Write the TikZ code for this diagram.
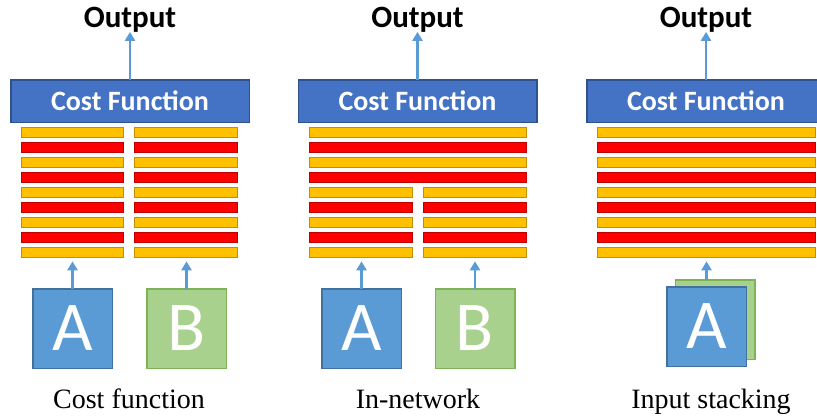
\documentclass[tikz,border=0pt]{standalone}
\usepackage{fontspec}
\setmainfont{Liberation Serif}
\newfontfamily\calib{Carlito}
\usetikzlibrary{arrows.meta}

\definecolor{cfblue}{HTML}{4472C4}
\definecolor{cfedge}{HTML}{2F528F}
\definecolor{arrblue}{HTML}{5B9BD5}
\definecolor{layY}{HTML}{FFC000}
\definecolor{layYedge}{HTML}{C09000}
\definecolor{layR}{HTML}{FF0000}
\definecolor{layRedge}{HTML}{C00000}
\definecolor{inA}{HTML}{5B9BD5}
\definecolor{inAedge}{HTML}{41719C}
\definecolor{inB}{HTML}{A9D18E}
\definecolor{inBedge}{HTML}{7DB356}

\tikzset{
  cost/.style={draw=cfedge, fill=cfblue, line width=1.5pt,
    minimum width=238.5pt, minimum height=42.5pt, inner sep=0pt, outer sep=0pt,
    text=white, font=\calib\bfseries\fontsize{28}{28}\selectfont},
  outlabel/.style={anchor=base, inner sep=0pt, outer sep=0pt,
    font=\calib\bfseries\fontsize{31}{31}\selectfont},
  caption/.style={anchor=base, inner sep=0pt, font=\fontsize{28}{28}\selectfont},
  layer/.style={anchor=north west, line width=1.3pt, minimum height=9.7pt,
    inner sep=0pt, outer sep=0pt},
  ylay/.style={layer, draw=layYedge, fill=layY},
  rlay/.style={layer, draw=layRedge, fill=layR},
  inbox/.style={minimum size=79.5pt, line width=1.5pt, inner sep=0pt, outer sep=0pt,
    text=white, font=\calib\fontsize{70}{70}\selectfont},
  inputA/.style={inbox, draw=inAedge, fill=inA},
  inputB/.style={inbox, draw=inBedge, fill=inB},
  flow/.style={draw=arrblue, line width=2.6pt,
    -{Triangle[width=10pt,length=9pt]}},
}

% layer colour by index: even rows yellow, odd rows red
\newcommand{\laystyle}[1]{\ifodd#1 rlay\else ylay\fi}

\begin{document}
\begin{tikzpicture}[x=1pt,y=-1pt]
\useasboundingbox (0,0) rectangle (817,418);

% ---- shared head of each network: cost function box and output arrow
\foreach \p/\ox in {1/10,2/297.5,3/586}{
  \node[cost] (cf\p) at (\ox+120,101) {Cost Function};
  \node[outlabel] (out\p) at (\ox+120,27) {Output};
  \draw[flow] (cf\p.north) -- (out\p.south);
}

% ---- panel 1: two separate stacks
\foreach \i in {0,...,8}{
  \pgfmathtruncatemacro{\yy}{127+15*\i}
  \edef\st{\laystyle{\i}}
  \node[\st, minimum width=101.7pt] (p1L\i) at (21.6,\yy+0.6) {};
  \node[\st, minimum width=102.7pt] (p1R\i) at (134.6,\yy+0.6) {};
}
% ---- panel 2: shared upper layers, split lower layers
\foreach \i in {0,...,3}{
  \pgfmathtruncatemacro{\yy}{127+15*\i}
  \edef\st{\laystyle{\i}}
  \node[\st, minimum width=216.7pt] (p2F\i) at (309.6,\yy+0.6) {};
}
\foreach \i in {4,...,8}{
  \pgfmathtruncatemacro{\yy}{127+15*\i}
  \edef\st{\laystyle{\i}}
  \node[\st, minimum width=102.7pt] (p2L\i) at (309.6,\yy+0.6) {};
  \node[\st, minimum width=102.7pt] (p2R\i) at (423.6,\yy+0.6) {};
}
% ---- panel 3: one stack
\foreach \i in {0,...,8}{
  \pgfmathtruncatemacro{\yy}{127+15*\i}
  \edef\st{\laystyle{\i}}
  \node[\st, minimum width=217.7pt] (p3F\i) at (597.6,\yy+0.6) {};
}

% ---- inputs
\node[inputA] (a1) at (72.5,328.5) {A};
\node[inputB] (b1) at (186.5,328.5) {B};
\node[inputA] (a2) at (361.5,328.5) {A};
\node[inputB] (b2) at (475,328.5) {B};
\node[inputB] (b3) at (715,319.5) {};
\node[inputA] (a3) at (706.5,326.5) {A};

\draw[flow, shorten >=4pt] (a1.north) -- (a1.north |- p1L8.south);
\draw[flow, shorten >=4pt] (b1.north) -- (b1.north |- p1R8.south);
\draw[flow, shorten >=4pt] (a2.north) -- (a2.north |- p2L8.south);
\draw[flow, shorten >=4pt] (b2.north) -- (b2.north |- p2R8.south);
\draw[flow, shorten >=4pt] (a3.north |- b3.north) -- (a3.north |- p3F8.south);

% ---- captions
\node[caption] (c1) at (129,408) {Cost function};
\node[caption] (c2) at (418,408) {In-network};
\node[caption] (c3) at (711,408) {Input stacking};
\end{tikzpicture}
\end{document}
